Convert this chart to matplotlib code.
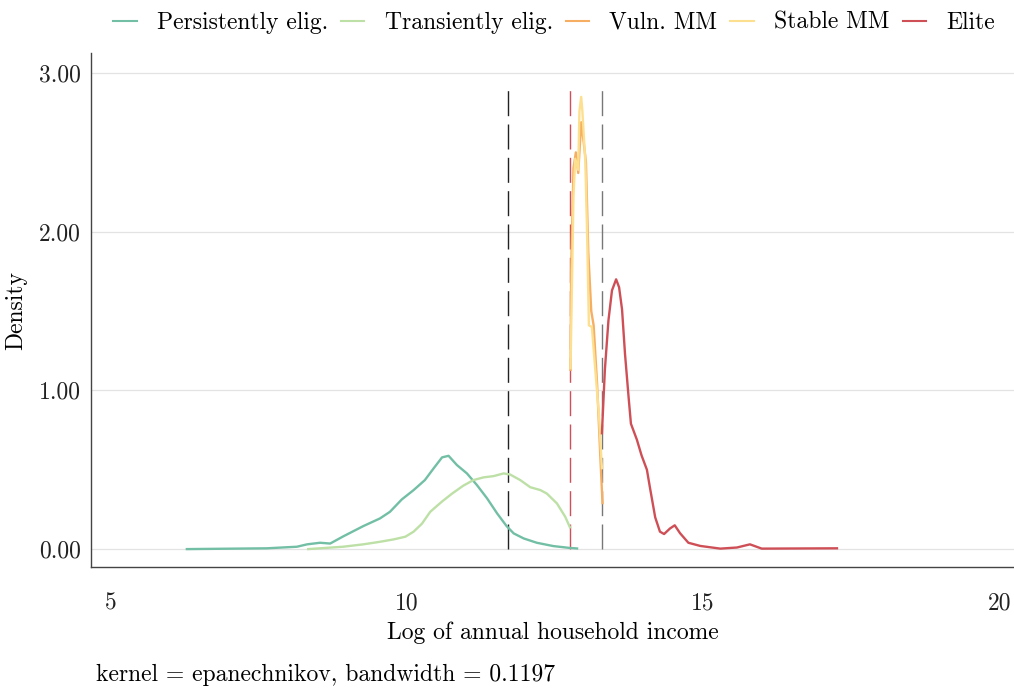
import matplotlib
matplotlib.use("Agg")
import matplotlib.pyplot as plt
from matplotlib.lines import Line2D

plt.rcParams['font.family'] = ['cmr10', 'DejaVu Serif']
plt.rcParams['axes.formatter.use_mathtext'] = True

# Density curves (log income, density)
persist_x = [6.28, 7.63, 8.14, 8.31, 8.53, 8.70, 8.92, 9.26, 9.54, 9.71, 9.91, 10.11,
             10.30, 10.45, 10.59, 10.70, 10.84, 11.01, 11.18, 11.35, 11.52, 11.68,
             11.80, 11.97, 12.19, 12.47, 12.73, 12.87]
persist_y = [0.0, 0.005, 0.015, 0.03, 0.04, 0.035, 0.08, 0.145, 0.193, 0.235, 0.313, 0.372,
             0.435, 0.51, 0.578, 0.588, 0.53, 0.477, 0.403, 0.32, 0.225, 0.145,
             0.099, 0.067, 0.04, 0.019, 0.008, 0.004]

trans_x = [8.33, 8.92, 9.26, 9.54, 9.77, 9.97, 10.11, 10.25, 10.39, 10.59, 10.76,
           10.95, 11.12, 11.29, 11.46, 11.63, 11.74, 11.91, 12.08, 12.25, 12.36,
           12.53, 12.67, 12.75]
trans_y = [0.0, 0.015, 0.03, 0.046, 0.061, 0.078, 0.11, 0.16, 0.235, 0.30, 0.35,
           0.40, 0.435, 0.452, 0.46, 0.477, 0.47, 0.435, 0.39, 0.372, 0.35,
           0.288, 0.204, 0.137]

vuln_x = [12.76, 12.77, 12.81, 12.85, 12.89, 12.94, 12.98, 13.02, 13.06, 13.11,
          13.15, 13.21, 13.26, 13.30]
vuln_y = [1.13, 1.75, 2.40, 2.50, 2.37, 2.69, 2.57, 2.44, 1.87, 1.50,
          1.41, 1.03, 0.61, 0.29]

stable_x = [12.76, 12.81, 12.84, 12.89, 12.91, 12.94, 12.96, 13.01, 13.04, 13.07,
            13.12, 13.18, 13.24, 13.29]
stable_y = [1.14, 2.23, 2.46, 2.39, 2.76, 2.85, 2.76, 2.44, 1.98, 1.41,
            1.40, 1.12, 0.845, 0.51]

elite_x = [13.29, 13.34, 13.40, 13.46, 13.53, 13.58, 13.63, 13.68, 13.74, 13.78,
           13.88, 13.96, 14.05, 14.10, 14.19, 14.27, 14.34, 14.44, 14.52, 14.61,
           14.75, 14.95, 15.29, 15.57, 15.79, 15.99, 17.26]
elite_y = [0.73, 1.13, 1.44, 1.63, 1.70, 1.65, 1.51, 1.23, 0.96, 0.79,
           0.69, 0.59, 0.50, 0.39, 0.20, 0.11, 0.095, 0.13, 0.15, 0.10,
           0.04, 0.02, 0.003, 0.01, 0.03, 0.003, 0.005]

# Vertical cut-offs
cut_x = [11.71, 12.75, 13.29]
cut_colors = ['#222222', '#d0505a', '#777777']

labels = ['Persistently elig.', 'Transiently elig.', 'Vuln. MM', 'Stable MM', 'Elite']
colors = ['#72bfa5', '#bde0a6', '#f6ae62', '#fde08f', '#cf4f57']

fig = plt.figure(figsize=(10.14, 6.91), dpi=100)
ax = fig.add_axes([0.0897, 0.1794, 0.9103, 0.7436])

for y in [0, 1, 2, 3]:
    ax.axhline(y, color='#e3e3e3', lw=0.9, zorder=0)

for cx, cc in zip(cut_x, cut_colors):
    ax.plot([cx, cx], [0, 2.93], color=cc, lw=1.0, dashes=(18, 6), zorder=1)

series = [(persist_x, persist_y), (trans_x, trans_y), (vuln_x, vuln_y),
          (stable_x, stable_y), (elite_x, elite_y)]
for (xs, ys), c in zip(series, colors):
    ax.plot(xs, ys, color=c, lw=1.7, zorder=2, solid_joinstyle='round')

ax.set_xlim(4.66, 20.25)
ax.set_ylim(-0.113, 3.125)
ax.set_xticks([5, 10, 15, 20])
ax.set_xticklabels(['5', '10', '15', '20'])
ax.set_yticks([0, 1, 2, 3])
ax.set_yticklabels(['0.00', '1.00', '2.00', '3.00'])
ax.tick_params(length=0, labelsize=17, colors='#222222')
ax.tick_params(axis='y', pad=7)
ax.tick_params(axis='x', pad=18)

for s in ['top', 'right']:
    ax.spines[s].set_visible(False)
for s in ['left', 'bottom']:
    ax.spines[s].set_color('#444444')
    ax.spines[s].set_linewidth(1.0)

ax.set_xlabel('Log of annual household income', fontsize=17, labelpad=5)
ax.set_ylabel('Density', fontsize=17, labelpad=9)

handles = [Line2D([0], [0], color=c, lw=1.5) for c in colors]
fig.legend(handles, labels, loc='upper left', bbox_to_anchor=(0.1114, 0.983),
           ncol=5, frameon=False, fontsize=17, handlelength=1.0,
           columnspacing=0.55, handletextpad=0.85, borderpad=0, borderaxespad=0)

fig.text(0.095, 0.015, 'kernel = epanechnikov, bandwidth = 0.1197', fontsize=17)

fig.savefig('out.png', dpi=100)
